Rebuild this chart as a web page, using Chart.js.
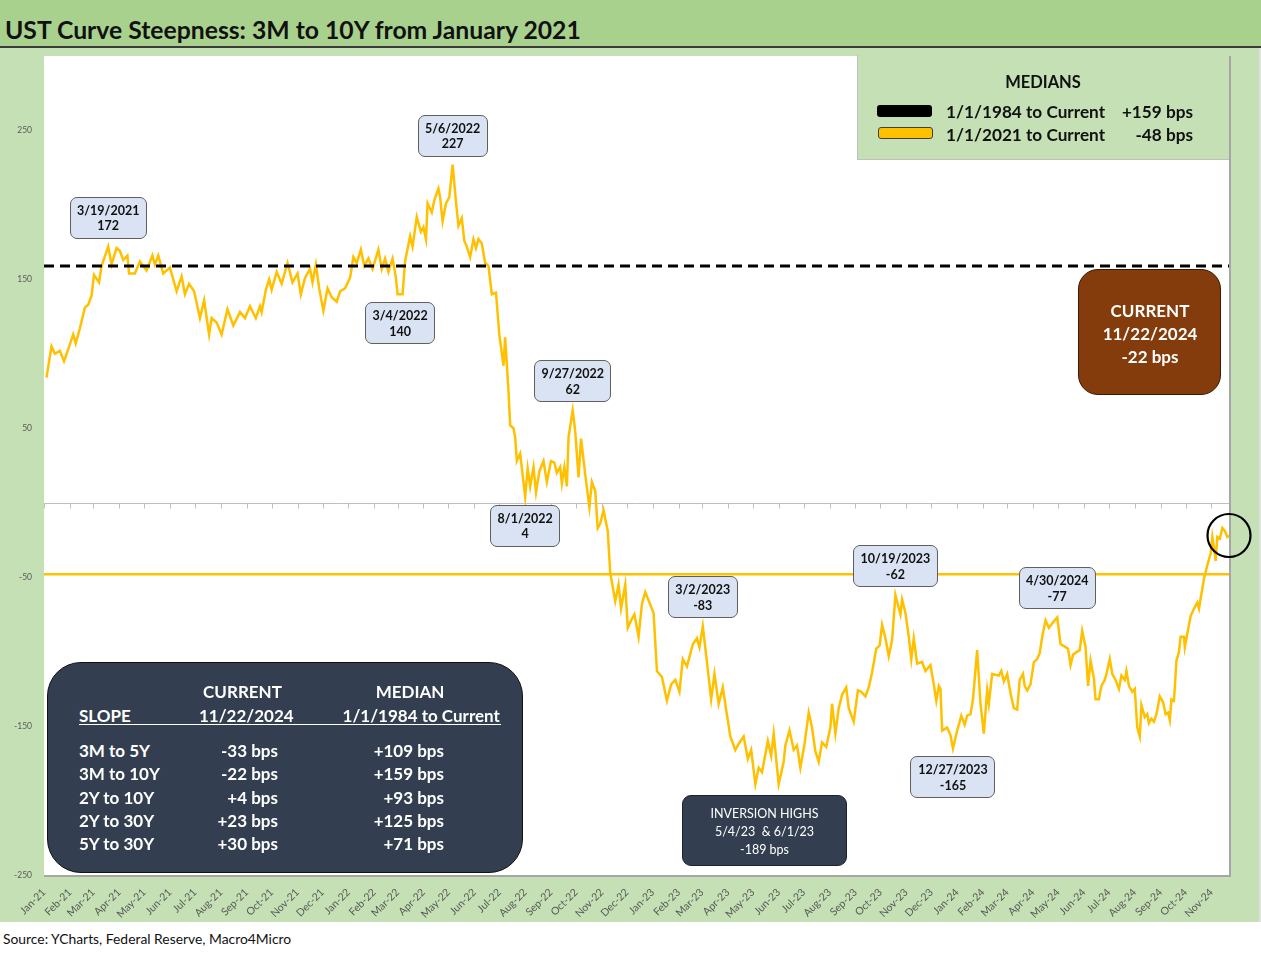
<!DOCTYPE html>
<html><head><meta charset="utf-8">
<script src="https://cdn.jsdelivr.net/npm/chart.js@4.4.1/dist/chart.umd.min.js"></script>
<style>
html,body{margin:0;padding:0;background:#fff}
body{width:1261px;height:955px;position:relative;overflow:hidden;font-family:Lato,sans-serif}
#titleBand{position:absolute;left:0;top:0;width:1261px;height:46px;background:#A9D18E;border-bottom:2px solid #3b3b3b}
#chartBg{position:absolute;left:0;top:48px;width:1259px;height:874px;background:#C5E0B4;border-right:2px solid #e0e0e0}
#cv{position:absolute;left:0;top:48px}
.t{position:absolute;white-space:pre}
.box{position:absolute;box-sizing:border-box}
</style></head><body>
<div id="titleBand"></div>
<div id="chartBg"></div>
<canvas id="cv" width="1261" height="874"></canvas>
<script>
// ---------------- DATA ----------------
const chartTitle = 'UST Curve Steepness: 3M to 10Y from January 2021';
const sourceText = 'Source: YCharts, Federal Reserve, Macro4Micro';

const dates = [
'2021-01-04','2021-01-10','2021-01-14','2021-01-20','2021-01-25','2021-01-30','2021-02-05','2021-02-08','2021-02-13','2021-02-19',
'2021-02-23','2021-02-27','2021-03-02','2021-03-08','2021-03-11','2021-03-19','2021-03-23','2021-03-29','2021-04-02','2021-04-06',
'2021-04-11','2021-04-13','2021-04-20','2021-04-26','2021-05-04','2021-05-11','2021-05-14','2021-05-18','2021-05-24','2021-06-01',
'2021-06-09','2021-06-15','2021-06-19','2021-06-24','2021-06-30','2021-07-07','2021-07-12','2021-07-18','2021-07-21','2021-07-27',
'2021-08-02','2021-08-09','2021-08-16','2021-08-24','2021-08-30','2021-09-05','2021-09-12','2021-09-17','2021-09-19','2021-09-24',
'2021-09-28','2021-10-01','2021-10-07','2021-10-13','2021-10-20','2021-10-26','2021-11-01','2021-11-05','2021-11-10','2021-11-16',
'2021-11-19','2021-11-23','2021-11-27','2021-12-02','2021-12-07','2021-12-12','2021-12-18','2021-12-22','2021-12-28','2022-01-03',
'2022-01-07','2022-01-11','2022-01-16','2022-01-20','2022-01-25','2022-01-30','2022-02-06','2022-02-10','2022-02-14','2022-02-18',
'2022-02-23','2022-02-27','2022-03-01','2022-03-04','2022-03-07','2022-03-10','2022-03-16','2022-03-19','2022-03-24','2022-03-29',
'2022-04-01','2022-04-04','2022-04-06','2022-04-11','2022-04-14','2022-04-19','2022-04-21','2022-04-24','2022-04-28','2022-05-02',
'2022-05-06','2022-05-10','2022-05-13','2022-05-17','2022-05-20','2022-05-23','2022-05-27','2022-05-31','2022-06-03','2022-06-06',
'2022-06-10','2022-06-14','2022-06-18','2022-06-22','2022-06-27','2022-07-01','2022-07-06','2022-07-08','2022-07-12','2022-07-14',
'2022-07-18','2022-07-20','2022-07-22','2022-07-26','2022-08-01','2022-08-04','2022-08-07','2022-08-11','2022-08-14','2022-08-18',
'2022-08-23','2022-08-27','2022-09-01','2022-09-05','2022-09-08','2022-09-12','2022-09-14','2022-09-17','2022-09-20','2022-09-22',
'2022-09-27','2022-09-30','2022-10-04','2022-10-07','2022-10-12','2022-10-17','2022-10-20','2022-10-24','2022-10-27','2022-10-30',
'2022-11-03','2022-11-08','2022-11-11','2022-11-17','2022-11-21','2022-11-24','2022-11-29','2022-12-02','2022-12-06','2022-12-10',
'2022-12-15','2022-12-19','2022-12-23','2023-01-02','2023-01-06','2023-01-12','2023-01-18','2023-01-23','2023-01-28','2023-02-02',
'2023-02-06','2023-02-11','2023-02-18','2023-02-23','2023-02-26','2023-03-02','2023-03-07','2023-03-12','2023-03-16','2023-03-21',
'2023-03-26','2023-03-30','2023-04-04','2023-04-10','2023-04-14','2023-04-20','2023-04-25','2023-04-29','2023-05-04','2023-05-08',
'2023-05-12','2023-05-19','2023-05-23','2023-05-26','2023-06-01','2023-06-07','2023-06-09','2023-06-14','2023-06-19','2023-06-23',
'2023-06-27','2023-07-02','2023-07-07','2023-07-11','2023-07-15','2023-07-19','2023-07-23','2023-07-28','2023-08-02','2023-08-04',
'2023-08-08','2023-08-12','2023-08-16','2023-08-21','2023-08-24','2023-08-30','2023-09-04','2023-09-08','2023-09-13','2023-09-17',
'2023-09-21','2023-09-26','2023-09-30','2023-10-03','2023-10-07','2023-10-11','2023-10-15','2023-10-19','2023-10-25','2023-10-27',
'2023-10-31','2023-11-04','2023-11-07','2023-11-10','2023-11-14','2023-11-20','2023-11-24','2023-11-30','2023-12-04','2023-12-07',
'2023-12-10','2023-12-12','2023-12-14','2023-12-20','2023-12-24','2023-12-27','2024-01-01','2024-01-06','2024-01-10','2024-01-13',
'2024-01-17','2024-01-20','2024-01-25','2024-01-29','2024-02-02','2024-02-06','2024-02-08','2024-02-12','2024-02-20','2024-02-23',
'2024-02-26','2024-03-01','2024-03-05','2024-03-09','2024-03-13','2024-03-16','2024-03-20','2024-03-22','2024-03-25','2024-03-29',
'2024-04-02','2024-04-06','2024-04-09','2024-04-12','2024-04-16','2024-04-20','2024-04-24','2024-04-30','2024-05-04','2024-05-10',
'2024-05-13','2024-05-16','2024-05-19','2024-05-24','2024-05-27','2024-05-30','2024-06-03','2024-06-06','2024-06-09','2024-06-13',
'2024-06-15','2024-06-19','2024-06-22','2024-06-26','2024-06-28','2024-07-02','2024-07-05','2024-07-09','2024-07-13','2024-07-16',
'2024-07-20','2024-07-22','2024-07-25','2024-07-29','2024-08-01','2024-08-04','2024-08-07','2024-08-09','2024-08-13','2024-08-16',
'2024-08-18','2024-08-21','2024-08-24','2024-08-27','2024-08-31','2024-09-04','2024-09-07','2024-09-10','2024-09-12','2024-09-14',
'2024-09-17','2024-09-20','2024-09-23','2024-09-25','2024-09-29','2024-09-30','2024-10-03','2024-10-07','2024-10-12','2024-10-15',
'2024-10-17','2024-10-20','2024-10-23','2024-10-27','2024-10-31','2024-11-02','2024-11-04','2024-11-06','2024-11-08','2024-11-11',
'2024-11-14','2024-11-17','2024-11-20','2024-11-22'
];
const spreadBps = [
84,105,100,102,95,103,113,107,117,131,
133,139,153,148,159,172,160,171,169,163,
166,154,154,162,156,166,160,166,154,158,
142,152,140,147,142,124,136,113,124,121,
113,130,119,128,124,132,124,132,128,143,
150,143,155,147,161,148,154,140,151,157,
148,160,144,129,144,138,135,142,144,151,
165,161,170,159,164,157,170,157,164,155,
164,151,140,140,140,162,179,172,192,182,
185,177,201,195,203,211,205,189,201,205,
227,202,186,191,176,172,165,177,171,177,
174,161,159,140,141,113,92,111,75,52,
50,44,28,33,4,23,11,24,7,21,
28,14,28,27,20,24,13,24,11,44,
62,48,17,43,19,-3,14,8,-17,-14,
-5,-19,-47,-66,-55,-71,-55,-84,-79,-75,
-90,-68,-60,-74,-113,-117,-133,-122,-119,-127,
-105,-110,-95,-91,-97,-83,-107,-132,-115,-135,
-124,-139,-157,-166,-162,-157,-172,-166,-189,-178,
-181,-160,-170,-155,-189,-174,-163,-153,-166,-163,
-178,-162,-141,-151,-167,-174,-161,-164,-151,-135,
-155,-138,-129,-124,-138,-147,-126,-127,-130,-124,
-114,-98,-96,-82,-91,-103,-92,-62,-75,-65,
-74,-90,-105,-91,-108,-107,-113,-109,-122,-133,
-123,-125,-153,-151,-156,-165,-153,-143,-149,-143,
-142,-132,-99,-135,-155,-126,-135,-115,-116,-113,
-120,-115,-128,-138,-139,-119,-115,-123,-126,-122,
-107,-105,-101,-90,-79,-84,-81,-77,-95,-97,
-98,-109,-102,-100,-99,-86,-97,-123,-106,-118,
-132,-132,-123,-119,-115,-105,-115,-119,-125,-116,
-119,-113,-123,-127,-125,-151,-157,-136,-144,-142,
-148,-145,-147,-142,-130,-134,-142,-141,-146,-132,
-133,-106,-100,-90,-90,-97,-88,-76,-70,-67,
-71,-61,-51,-42,-34,-23,-30,-39,-23,-24,
-17,-19,-23,-22
];
const monthLabels = [
'Jan-21','Feb-21','Mar-21','Apr-21','May-21','Jun-21','Jul-21','Aug-21','Sep-21','Oct-21','Nov-21','Dec-21',
'Jan-22','Feb-22','Mar-22','Apr-22','May-22','Jun-22','Jul-22','Aug-22','Sep-22','Oct-22','Nov-22','Dec-22',
'Jan-23','Feb-23','Mar-23','Apr-23','May-23','Jun-23','Jul-23','Aug-23','Sep-23','Oct-23','Nov-23','Dec-23',
'Jan-24','Feb-24','Mar-24','Apr-24','May-24','Jun-24','Jul-24','Aug-24','Sep-24','Oct-24','Nov-24'
];
const yTickValues = [-250,-150,-50,50,150,250];
const yMin = -250, yMax = 300;

const median1984 = 159;
const median2021 = -48;
const medianLabels = ['1/1/1984 to Current','1/1/2021 to Current'];
const medianValues = ['+159 bps','-48 bps'];

const currentDateLabel = '11/22/2024';
const currentValue = -22;

const calloutDates  = ['2021-03-19','2022-05-06','2022-03-04','2022-09-27','2022-08-01','2023-03-02','2023-10-19','2024-04-30','2023-12-27'];
const calloutLabels = ['3/19/2021','5/6/2022','3/4/2022','9/27/2022','8/1/2022','3/2/2023','10/19/2023','4/30/2024','12/27/2023'];
const calloutValues = [172,227,140,62,4,-83,-62,-77,-165];

const inversionLines = ['INVERSION HIGHS','5/4/23  & 6/1/23','-189 bps'];

const slopeNames   = ['3M to 5Y','3M to 10Y','2Y to 10Y','2Y to 30Y','5Y to 30Y'];
const slopeCurrent = ['-33 bps','-22 bps','+4 bps','+23 bps','+30 bps'];
const slopeMedian  = ['+109 bps','+159 bps','+93 bps','+125 bps','+71 bps'];

// ---------------- LAYOUT / STYLE ----------------
const calloutSide = [-1,-1,1,-1,1,-1,-1,-1,1]; // -1 above point, +1 below
const GOLD = '#FFC000';
const CANVAS_TOP = 48;

const DAY = 864e5, T0 = Date.UTC(2021,0,1);
const dayOf = s => (Date.parse(s) - T0) / DAY;
const monthDays = monthLabels.map((_, i) => (Date.UTC(2021 + Math.floor(i/12), i % 12, 1) - T0) / DAY);
const points = dates.map((d, i) => ({x: dayOf(d), y: spreadBps[i]}));
const xMin = 0, xMax = dayOf(dates[dates.length-1]);

const mc = document.createElement('canvas').getContext('2d');
function met(fs, w){ mc.font = `${w} ${fs}px Lato`; const m = mc.measureText('Hg'); return {asc: m.fontBoundingBoxAscent, desc: m.fontBoundingBoxDescent}; }
function txt(text, x, base, fs, opt = {}) {
  const w = opt.weight || 400, al = opt.align || 'left';
  const {asc, desc} = met(fs, w);
  const el = document.createElement('div');
  el.className = 't'; el.textContent = text;
  el.style.font = `${w} ${fs}px Lato, sans-serif`;
  el.style.lineHeight = (asc + desc) + 'px';
  el.style.top = (base - asc) + 'px';
  el.style.color = opt.color || '#000';
  if (al === 'left') el.style.left = x + 'px';
  else if (al === 'center') { el.style.left = (x - 400) + 'px'; el.style.width = '800px'; el.style.textAlign = 'center'; }
  else { el.style.left = (x - 800) + 'px'; el.style.width = '800px'; el.style.textAlign = 'right'; }
  document.body.appendChild(el); return el;
}
function box(x, y, w, h, st) {
  const el = document.createElement('div'); el.className = 'box';
  Object.assign(el.style, {left: x + 'px', top: y + 'px', width: w + 'px', height: h + 'px'}, st);
  document.body.appendChild(el); return el;
}
function fitSize(text, weight, width) { mc.font = `${weight} 100px Lato`; return 100 * width / mc.measureText(text).width; }

// ---------------- CHART ----------------
const decor = {
  id: 'decor',
  beforeDraw(chart) {
    const {ctx, chartArea: a} = chart;
    ctx.save();
    ctx.fillStyle = '#fff';
    ctx.fillRect(a.left, a.top, a.right - a.left, a.bottom - a.top);
    ctx.strokeStyle = '#A6A6A6'; ctx.lineWidth = 2;
    ctx.beginPath(); ctx.moveTo(a.right + 1, a.top); ctx.lineTo(a.right + 1, a.bottom + 1); ctx.lineTo(a.left, a.bottom + 1); ctx.stroke();
    const y0 = Math.round(chart.scales.y.getPixelForValue(0)) + 0.5;
    ctx.strokeStyle = '#BFBFBF'; ctx.lineWidth = 1;
    ctx.beginPath(); ctx.moveTo(a.left, y0); ctx.lineTo(a.right, y0);
    monthDays.forEach(d => { const x = Math.round(chart.scales.x.getPixelForValue(d)) + 0.5; ctx.moveTo(x, y0); ctx.lineTo(x, y0 + 5); });
    ctx.stroke();
    ctx.restore();
  },
  afterDatasetsDraw(chart) {
    const {ctx} = chart;
    const last = points[points.length - 1];
    const x = chart.scales.x.getPixelForValue(last.x), y = chart.scales.y.getPixelForValue(last.y);
    ctx.save(); ctx.strokeStyle = '#000'; ctx.lineWidth = 2.2;
    ctx.beginPath(); ctx.arc(x, y, 21.5, 0, Math.PI * 2); ctx.stroke(); ctx.restore();
  }
};

const chart = new Chart(document.getElementById('cv'), {
  type: 'line',
  data: { datasets: [
    {label: 'Median 1/1/1984 to Current', data: [{x: xMin, y: median1984}, {x: xMax, y: median1984}], borderColor: '#000', borderWidth: 3, borderDash: [10, 6], pointRadius: 0, order: 0},
    {label: 'Median 1/1/2021 to Current', data: [{x: xMin, y: median2021}, {x: xMax, y: median2021}], borderColor: GOLD, borderWidth: 2.5, pointRadius: 0, order: 1},
    {label: '3M to 10Y', data: points, borderColor: GOLD, borderWidth: 2.5, pointRadius: 0, tension: 0, order: 2}
  ]},
  options: {
    responsive: false, animation: false,
    layout: {autoPadding: false, padding: {left: 0, right: 32, top: 8, bottom: 0}},
    plugins: {legend: {display: false}, tooltip: {enabled: false}},
    scales: {
      x: {
        type: 'linear', min: xMin, max: xMax,
        afterBuildTicks: s => { s.ticks = monthDays.map(v => ({value: v})); },
        afterFit: s => { s.height = 47; s.paddingLeft = 0; s.paddingRight = 0; },
        grid: {display: false, drawTicks: false}, border: {display: false},
        ticks: {autoSkip: false, maxRotation: 45, minRotation: 45, padding: 11, color: '#595959',
                font: {family: 'Lato', size: 10.5}, callback: (v, i) => monthLabels[i]}
      },
      y: {
        min: yMin, max: yMax,
        afterBuildTicks: s => { s.ticks = yTickValues.map(v => ({value: v})); },
        afterFit: s => { s.width = 44; s.paddingTop = 0; s.paddingBottom = 0; },
        grid: {display: false, drawTicks: false}, border: {display: false},
        ticks: {padding: 12, color: '#595959', font: {family: 'Lato', size: 8.5}, callback: v => String(v)}
      }
    }
  },
  plugins: [decor]
});

// ---------------- TEXT OVERLAYS ----------------
txt(chartTitle, 5, 38.8, fitSize(chartTitle, 700, 579), {weight: 700, color: '#111'});
txt(sourceText, 3, 944, fitSize(sourceText, 400, 289), {color: '#111'});

// callouts
const xs = chart.scales.x, ys = chart.scales.y;
calloutDates.forEach((d, i) => {
  const px = xs.getPixelForValue(dayOf(d));
  const py = ys.getPixelForValue(calloutValues[i]) + CANVAS_TOP;
  const cy = py + calloutSide[i] * 29;
  const lines = [calloutLabels[i], String(calloutValues[i])];
  mc.font = '700 12.5px Lato';
  const tw = Math.max(...lines.map(l => mc.measureText(l).width));
  const w = Math.round(tw + 15), h = 42;
  box(px - w / 2, cy - h / 2, w, h, {background: '#DAE3F3', border: '1.5px solid #5f5f5f', borderRadius: '7px'});
  txt(lines[0], px, cy - 3, 12.5, {weight: 700, align: 'center', color: '#111'});
  txt(lines[1], px, cy + 12.7, 12.5, {weight: 700, align: 'center', color: '#111'});
});

// medians legend
box(857, 55, 372, 105, {background: '#C5E0B4', border: '1px solid #BFBFBF', borderRight: 'none', borderTop: 'none'});
txt('MEDIANS', 1043, 87.7, 16.5, {weight: 700, align: 'center', color: '#111'});
box(877, 105, 55, 12, {background: '#000', borderRadius: '3px'});
box(878, 127, 55, 12, {background: GOLD, border: '1px solid #404040', borderRadius: '3px'});
txt(medianLabels[0], 946, 117.7, 17.2, {weight: 700, color: '#111'});
txt(medianLabels[1], 946, 140.7, 17.2, {weight: 700, color: '#111'});
txt(medianValues[0], 1193, 117.7, 17.2, {weight: 700, align: 'right', color: '#111'});
txt(medianValues[1], 1193, 140.7, 17.2, {weight: 700, align: 'right', color: '#111'});

// current box
box(1078, 269, 143, 126, {background: '#843C0C', border: '1px solid #3a1a05', borderRadius: '20px'});
txt('CURRENT', 1150, 316.7, 17, {weight: 700, align: 'center', color: '#fff'});
txt(currentDateLabel, 1150, 340, 17, {weight: 700, align: 'center', color: '#fff'});
txt(`${currentValue} bps`, 1150, 362.5, 17, {weight: 700, align: 'center', color: '#fff'});

// inversion highs box
box(682, 795, 165, 71, {background: '#333F50', border: '1px solid #1b2230', borderRadius: '9px'});
inversionLines.forEach((l, i) => txt(l, 764.5, 817.5 + i * 18, 12.5, {align: 'center', color: '#fff'}));

// slope table
box(47, 662, 476, 211, {background: '#333F50', border: '1.5px solid #111', borderRadius: '34px'});
const TF = 17, TW = 700;
txt('CURRENT', 242.5, 698.3, TF, {weight: TW, align: 'center', color: '#fff'});
txt('MEDIAN', 410, 698.3, TF, {weight: TW, align: 'center', color: '#fff'});
txt('SLOPE', 79, 721.7, TF, {weight: TW, color: '#fff'});
txt(currentDateLabel, 246.3, 721.7, TF, {weight: TW, align: 'center', color: '#fff'});
txt(medianLabels[0], 421.2, 721.7, TF, {weight: TW, align: 'center', color: '#fff'});
box(79, 723.5, 422, 1.5, {background: '#fff'});
const rowBase = [756.7, 780, 803.5, 826.7, 850];
slopeNames.forEach((n, i) => {
  txt(n, 79, rowBase[i], TF, {weight: TW, color: '#fff'});
  txt(slopeCurrent[i], 278, rowBase[i], TF, {weight: TW, align: 'right', color: '#fff'});
  txt(slopeMedian[i], 444, rowBase[i], TF, {weight: TW, align: 'right', color: '#fff'});
});
</script>
</body></html>
